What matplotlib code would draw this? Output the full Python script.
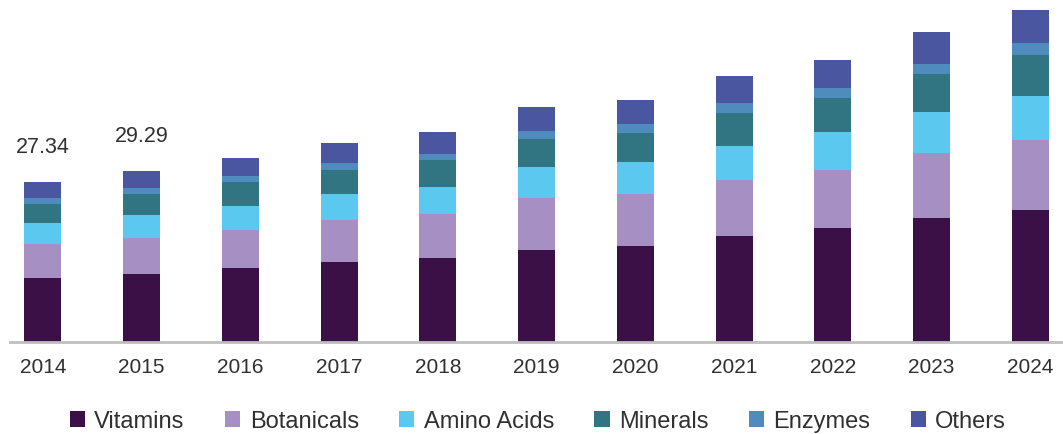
import numpy as np
import matplotlib
matplotlib.use("Agg")
import matplotlib.pyplot as plt

# data (USD billion)
years = ["2014", "2015", "2016", "2017", "2018", "2019", "2020", "2021", "2022", "2023", "2024"]
vitamins = [10.94, 11.70, 12.67, 13.65, 14.33, 15.75, 16.49, 18.20, 19.47, 21.23, 22.65]
botanicals = [5.81, 6.14, 6.51, 7.19, 7.53, 8.96, 8.80, 9.59, 9.98, 11.13, 11.99]
amino_acids = [3.59, 3.90, 4.16, 4.45, 4.62, 5.24, 5.48, 5.82, 6.46, 6.97, 7.53]
minerals = [3.25, 3.56, 4.01, 4.16, 4.62, 4.86, 5.02, 5.60, 5.92, 6.61, 6.97]
enzymes = [1.03, 1.02, 1.03, 1.20, 1.13, 1.30, 1.49, 1.66, 1.66, 1.71, 2.00]
others = [2.72, 2.97, 3.18, 3.42, 3.66, 4.11, 4.11, 4.62, 4.85, 5.38, 5.65]
labelled_totals = {0: "27.34", 1: "29.29"}

series_names = ["Vitamins", "Botanicals", "Amino Acids", "Minerals", "Enzymes", "Others"]
colors = ["#3a1046", "#a58fc3", "#5bc8f0", "#327582", "#4f8bbd", "#4a56a0"]

plt.rcParams["font.family"] = ["Liberation Sans", "DejaVu Sans"]
text_color = "#303030"

fig = plt.figure(figsize=(10.63, 4.35), dpi=100)
ax = fig.add_axes([10 / 1063, (435 - 343) / 435, 1 - 10 / 1063, 343 / 435])

x = np.arange(len(years))
bottom = np.zeros(len(years))
for name, vals, col in zip(series_names,
                           [vitamins, botanicals, amino_acids, minerals, enzymes, others],
                           colors):
    ax.bar(x, vals, width=0.375, bottom=bottom, color=col, label=name, zorder=2)
    bottom += np.array(vals)

# total labels above the first two bars
for i, txt in labelled_totals.items():
    ax.annotate(txt, (x[i], bottom[i]), xytext=(0, 18), textcoords="offset points",
                ha="center", va="bottom", fontsize=15.5, color=text_color)

ax.set_xlim(-0.334, 10.33)
ax.set_ylim(0, 58.73)
ax.set_xticks(x)
ax.set_xticklabels(years, fontsize=15, color=text_color)
ax.tick_params(axis="x", length=0, pad=11)
ax.set_yticks([])
for side in ["top", "right", "left"]:
    ax.spines[side].set_visible(False)
ax.spines["bottom"].set_color("#bfbfbf")
ax.spines["bottom"].set_linewidth(2)

fig.legend(loc="center", bbox_to_anchor=(0.506, 0.03), ncol=6, frameon=False,
           fontsize=17, handlelength=0.65, handleheight=0.65, handletextpad=0.4,
           columnspacing=1.7, labelcolor=text_color)

fig.savefig("out.png", dpi=100)
